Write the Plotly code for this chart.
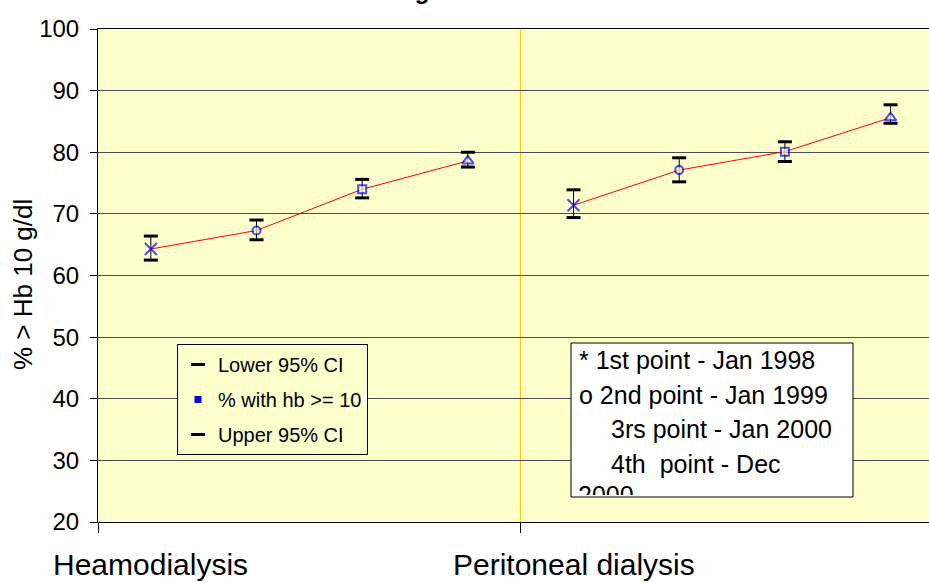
import plotly.graph_objects as go

# ---------------- data ----------------
modalities = ["Heamodialysis", "Peritoneal dialysis"]
time_points = ["Jan 1998", "Jan 1999", "Jan 2000", "Dec 2000"]

pct_hd = [64.3, 67.3, 74.0, 78.6]
lower_hd = [62.5, 65.8, 72.6, 77.6]
upper_hd = [66.4, 69.0, 75.6, 80.0]

pct_pd = [71.4, 77.1, 80.1, 85.6]
lower_pd = [69.4, 75.2, 78.5, 84.7]
upper_pd = [73.9, 79.1, 81.7, 87.7]

y_ticks = [20, 30, 40, 50, 60, 70, 80, 90, 100]

legend_names = ["Lower 95% CI", "% with hb >= 10", "Upper 95% CI"]
note_lines = ["* 1st point - Jan 1998", "o 2nd point - Jan 1999",
              "3rs point - Jan 2000", "4th  point - Dec", "2000"]
title_text = "% Hb > 10 g/dl"
y_title = "% > Hb 10 g/dl"

# ---------------- styles ----------------
FONT = "Arial, 'Liberation Sans', sans-serif"
PLOT_BG = "#FFFFCC"
BLUE = "#0000FF"
point_symbols = ["x-thin-open", "circle", "square", "triangle-up"]
point_sizes = [12, 8, 8, 10]
point_fill = [BLUE, PLOT_BG, PLOT_BG, PLOT_BG]  # open X uses this as stroke

W, H = 929, 583
ML, MR, MT, MB = 98, 0, 29, 61
PW, PH = W - ML - MR, H - MT - MB
SLOT = 105.67  # pixel width of one time-point slot


def px_x(p):
    return (p - ML) / PW


def px_y(p):
    return (H - MB - p) / PH


pcts = [pct_hd, pct_pd]
lowers = [lower_hd, lower_pd]
uppers = [upper_hd, upper_pd]
n = len(time_points)

fig = go.Figure()

all_x, all_lo, all_hi = [], [], []
for g, name in enumerate(modalities):
    xs = [g * n + i + 0.5 for i in range(n)]
    all_x += xs
    all_lo += lowers[g]
    all_hi += uppers[g]
    fig.add_trace(go.Scatter(
        x=xs, y=pcts[g], mode="lines+markers", showlegend=False,
        line=dict(color="#FF0000", width=1),
        marker=dict(symbol=point_symbols, size=point_sizes, color=point_fill,
                    line=dict(color=BLUE, width=2)),
        error_y=dict(type="data", symmetric=False,
                     array=[u - v for u, v in zip(uppers[g], pcts[g])],
                     arrayminus=[v - l for v, l in zip(pcts[g], lowers[g])],
                     color="#000000", thickness=1, width=0),
        hoverinfo="skip",
    ))

cap_marker = dict(symbol="line-ew-open", size=10, color="#000000",
                  line=dict(color="#000000", width=3))
fig.add_trace(go.Scatter(x=all_x, y=all_lo, mode="markers", name=legend_names[0],
                         marker=cap_marker, legendgroup="a", legendrank=1))
fig.add_trace(go.Scatter(x=[None], y=[None], mode="markers", name=legend_names[1],
                         marker=dict(symbol="square", size=7, color=BLUE),
                         legendgroup="b", legendrank=2))
fig.add_trace(go.Scatter(x=all_x, y=all_hi, mode="markers", name=legend_names[2],
                         marker=cap_marker, legendgroup="c", legendrank=3))

annotations = []
# category labels under the first point of each group
for g, name in enumerate(modalities):
    annotations.append(dict(x=g * n + 0.5, xref="x", y=px_y(564), yref="paper",
                            text=name, showarrow=False, xanchor="center", yanchor="middle",
                            font=dict(family=FONT, size=30, color="#000000")))
# y axis title
annotations.append(dict(x=px_x(23), xref="paper", y=px_y(285), yref="paper",
                        text=y_title, textangle=-90, showarrow=False,
                        xanchor="center", yanchor="middle",
                        font=dict(family=FONT, size=26, color="#000000")))
# title (mostly above the visible page)
annotations.append(dict(x=px_x(442 - 150), xref="paper", y=px_y(6), yref="paper",
                        text="<b>" + title_text + "</b>", showarrow=False,
                        xanchor="left", yanchor="bottom",
                        font=dict(family=FONT, size=24, color="#000000")))
# note box lines
box_l, box_t, box_r, box_b = 571, 343, 853, 497
line_mid = [360, 395, 429, 464]
line_x = [577, 577, 609, 609]
for t, yy, xx in zip(note_lines[:4], line_mid, line_x):
    annotations.append(dict(x=px_x(xx), xref="paper", y=px_y(yy), yref="paper",
                            text=t, showarrow=False, xanchor="left", yanchor="middle",
                            font=dict(family=FONT, size=25, color="#000000")))
annotations.append(dict(x=px_x(577), xref="paper", y=px_y(box_b - 1), yref="paper",
                        text=note_lines[4], showarrow=False, xanchor="left", yanchor="bottom",
                        height=14, valign="top", borderpad=0,
                        font=dict(family=FONT, size=25, color="#000000")))

fig.update_layout(
    width=W, height=H,
    margin=dict(l=ML, r=MR, t=MT, b=MB, pad=0),
    paper_bgcolor="#FFFFFF", plot_bgcolor=PLOT_BG,
    font=dict(family=FONT, size=20, color="#000000"),
    showlegend=True,
    legend=dict(x=px_x(177), y=px_y(344), xanchor="left", yanchor="top",
                bgcolor=PLOT_BG, bordercolor="#000000", borderwidth=1,
                font=dict(family=FONT, size=20, color="#000000"),
                traceorder="grouped", tracegroupgap=6, itemsizing="trace"),
    shapes=[dict(type="rect", xref="paper", yref="paper", layer="above",
                 x0=px_x(box_l), x1=px_x(box_r), y0=px_y(box_b), y1=px_y(box_t),
                 fillcolor="#FFFFFF", line=dict(color="#000000", width=1))],
    annotations=annotations,
    xaxis=dict(range=[0, PW / SLOT], tickvals=[0, 4], ticks="outside", ticklen=10,
               tickcolor="#000000", showticklabels=False, showgrid=True,
               gridcolor="#F5D000", gridwidth=1, showline=True, linecolor="#000000",
               linewidth=1, mirror=True, zeroline=False, fixedrange=True),
    yaxis=dict(range=[20, 100], tickvals=y_ticks, ticks="outside", ticklen=7,
               tickcolor="#000000", tickfont=dict(family=FONT, size=24, color="#000000"),
               showgrid=True, gridcolor="#4d4d4d", gridwidth=1, showline=True,
               linecolor="#000000", linewidth=1, zeroline=False, ticklabelstandoff=6,
               fixedrange=True),
)

fig.write_html("out.html")
